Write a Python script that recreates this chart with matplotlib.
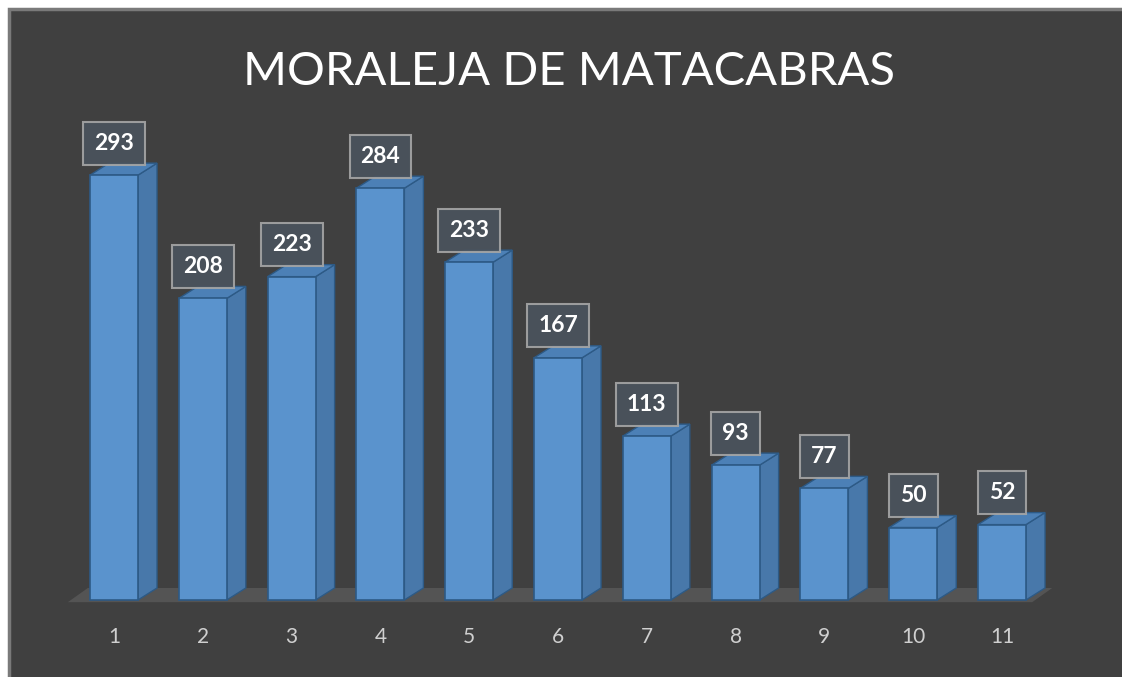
import matplotlib
matplotlib.use("Agg")
import matplotlib.pyplot as plt
from matplotlib.patches import Polygon, Rectangle

title = "MORALEJA DE MATACABRAS"
categories = ["1", "2", "3", "4", "5", "6", "7", "8", "9", "10", "11"]
values = [293, 208, 223, 284, 233, 167, 113, 93, 77, 50, 52]

W, H = 1122, 677
fig = plt.figure(figsize=(W / 100, H / 100), dpi=100)
fig.patch.set_facecolor("white")
# dark panel with grey frame
fig.patches.append(Rectangle((9 / W, -0.01), 1.05, (H - 9) / H + 0.01, transform=fig.transFigure,
                             facecolor="#404040", edgecolor="#7a7a7a", linewidth=2.5, zorder=-5))

ax = fig.add_axes([0, 0, 1, 1])
ax.set_zorder(1)
ax.set_facecolor("none")
px_cat = 88.8
px_unit = 1.45
x0_px, y0_px = 114, 600
ax.set_xlim(-x0_px / px_cat, (W - x0_px) / px_cat)
ax.set_ylim(-(H - y0_px) / px_unit, y0_px / px_unit)
ax.axis("off")

dx = 19 / px_cat
dy = 12 / px_unit
bw = 48 / px_cat

# floor
fl = Polygon([(-0.52, -1.5), (10.34, -1.5), (10.34 + 20 / px_cat, 12 / px_unit), (-0.52 + 20 / px_cat, 12 / px_unit)],
             closed=True, facecolor="#545454", edgecolor="none", zorder=1)
ax.add_patch(fl)

front_c = "#5a93cd"
side_c = "#4878aa"
top_c = "#4c80b6"
edge_c = "#2d5a86"
xs = list(range(len(values)))
bars = ax.bar(xs, values, width=bw, color=front_c, edgecolor=edge_c, linewidth=1.2, zorder=3)
for i, v in zip(xs, values):
    l, r = i - bw / 2, i + bw / 2
    ax.add_patch(Polygon([(r, 0), (r + dx, dy), (r + dx, v + dy), (r, v)], closed=True,
                         facecolor=side_c, edgecolor=edge_c, linewidth=1.0, zorder=2))
    ax.add_patch(Polygon([(l, v), (r, v), (r + dx, v + dy), (l + dx, v + dy)], closed=True,
                         facecolor=top_c, edgecolor=edge_c, linewidth=1.0, zorder=2))
    ax.text(i, v + 22, str(v), ha="center", va="center", color="white", fontsize=16.5,
            fontweight="bold", family="Lato", zorder=5,
            bbox=dict(boxstyle="square,pad=0.48", facecolor="#4b535d", edgecolor="#a6a6a6",
                      linewidth=1.5, alpha=0.9))
    ax.text(i, -(637 - y0_px) / px_unit, categories[i], ha="center", va="center",
            color="#d0d0d0", fontsize=15, family="Lato")

fig.text(569 / W, 1 - 72 / H, title, ha="center", va="center", color="white",
         fontsize=34, family="Lato")

fig.savefig("out.png", dpi=100, facecolor=fig.get_facecolor())
